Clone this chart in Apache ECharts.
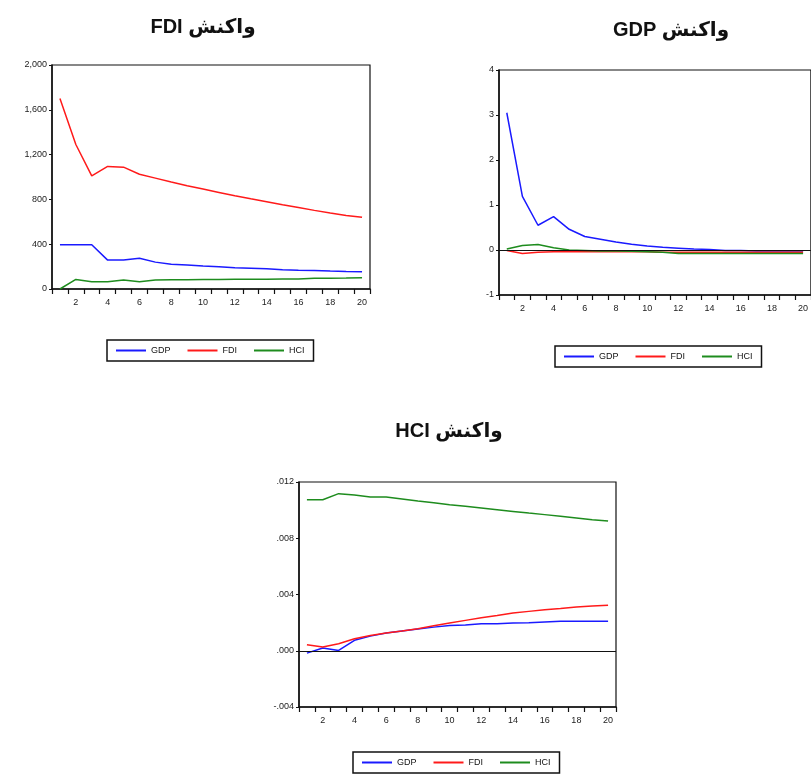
<!DOCTYPE html>
<html>
<head>
<meta charset="utf-8">
<script src="https://cdn.jsdelivr.net/npm/echarts@6/dist/echarts.min.js"></script>
<style>
html,body{margin:0;padding:0;background:#fff;}
#c{width:811px;height:778px;}
</style>
</head>
<body>
<div id="c"></div>
<script>
const periods = ['1','2','3','4','5','6','7','8','9','10','11','12','13','14','15','16','17','18','19','20'];
const seriesNames = ['GDP','FDI','HCI'];
const titles = ['FDI واکنش','GDP واکنش','HCI واکنش'];

// Response of FDI
const fdiResp_GDP = [395,395,395,258,258,275,240,222,215,205,198,190,185,180,172,168,165,160,157,155];
const fdiResp_FDI = [1700,1290,1010,1094,1088,1025,990,955,922,892,862,832,805,780,752,728,702,678,657,640];
const fdiResp_HCI = [0,85,65,65,80,65,80,82,83,84,85,86,87,88,89,90,95,97,98,100];

// Response of GDP
const gdpResp_GDP = [3.05,1.19,0.55,0.74,0.46,0.30,0.24,0.18,0.13,0.09,0.06,0.04,0.02,0.01,-0.01,-0.01,-0.02,-0.02,-0.02,-0.02];
const gdpResp_FDI = [-0.01,-0.08,-0.05,-0.04,-0.04,-0.04,-0.04,-0.04,-0.04,-0.04,-0.05,-0.05,-0.05,-0.05,-0.05,-0.05,-0.05,-0.05,-0.05,-0.05];
const gdpResp_HCI = [0.02,0.10,0.12,0.05,0.0,-0.01,-0.02,-0.02,-0.03,-0.04,-0.05,-0.08,-0.08,-0.08,-0.08,-0.08,-0.08,-0.08,-0.08,-0.08];

// Response of HCI
const hciResp_GDP = [-0.00017,0.0002,0.00002,0.00074,0.00104,0.00126,0.0014,0.00154,0.00168,0.0018,0.00183,0.00192,0.00192,0.00197,0.00199,0.00204,0.00209,0.00209,0.00209,0.00209];
const hciResp_FDI = [0.00043,0.00026,0.0005,0.00085,0.00109,0.00126,0.0014,0.00157,0.00178,0.00197,0.00216,0.00235,0.00251,0.00268,0.0028,0.00292,0.00301,0.00311,0.00318,0.00323];
const hciResp_HCI = [0.01074,0.01074,0.01117,0.01107,0.01093,0.01093,0.01079,0.01065,0.01053,0.01039,0.01027,0.01015,0.01003,0.00991,0.00979,0.00968,0.00956,0.00944,0.00932,0.00922];

const colors = ['#1a1aff','#ff1a1a','#1e8c1e'];
const tickFont = {fontSize:9, color:'#222', fontFamily:'Liberation Sans, Arial, sans-serif'};

const chart = echarts.init(document.getElementById('c'), null, {renderer:'canvas'});

const grids = [
  {left:52, top:65, width:318, height:224},
  {left:499, top:70, width:316, height:225},
  {left:299, top:482, width:317, height:225}
];
const yCfg = [
  {min:0, max:2000, interval:400, fmt:v => v.toLocaleString('en-US'), zero:false},
  {min:-1, max:4, interval:1, fmt:v => String(Math.round(v)), zero:true},
  {min:-0.004, max:0.012, interval:0.004, fmt:v => { let s=(Math.round(v*1000)/1000).toFixed(3); return s.replace('-0.','-.').replace(/^0\./,'.'); }, zero:true}
];
const dataSets = [
  [fdiResp_GDP, fdiResp_FDI, fdiResp_HCI],
  [gdpResp_GDP, gdpResp_FDI, gdpResp_HCI],
  [hciResp_GDP, hciResp_FDI, hciResp_HCI]
];
const titlePos = [{x:198,y:12},{x:666,y:15},{x:444,y:416}];
const legendPos = [{left:107,top:340},{left:555,top:346},{left:353,top:752}];

const option = {
  animation:false,
  backgroundColor:'#fff',
  title: titles.map((t,i)=>({
    text:t, left:titlePos[i].x, top:titlePos[i].y, textAlign:'center',
    textStyle:{fontSize:20, fontWeight:'bold', color:'#111', fontFamily:'Liberation Sans Narrow, Liberation Sans, DejaVu Sans, sans-serif'}
  })),
  legend: legendPos.map(p=>({
    data:seriesNames, left:p.left, top:p.top, orient:'horizontal',
    icon:'rect', itemWidth:30, itemHeight:2, itemGap:17,
    borderColor:'#111', borderWidth:1.5, padding:[6,9,6,9],
    textStyle:{fontSize:9, color:'#111', fontFamily:'Liberation Sans, Arial, sans-serif'},
    selectedMode:false
  })),
  grid: grids.map(g=>({...g, show:true, borderColor:'#111', borderWidth:1.2, backgroundColor:'transparent', containLabel:false})),
  xAxis: grids.map((g,i)=>({
    type:'category', gridIndex:i, data:periods, boundaryGap:true,
    axisLine:{show:true, onZero:false, lineStyle:{color:'#111', width:1.5}},
    axisTick:{show:true, interval:0, length:5, inside:false, lineStyle:{color:'#111', width:1.2}},
    axisLabel:{...tickFont, margin:9, interval:(idx)=> idx%2===1},
    splitLine:{show:false}
  })),
  yAxis: yCfg.map((c,i)=>({
    type:'value', gridIndex:i, min:c.min, max:c.max, interval:c.interval,
    axisLine:{show:true, lineStyle:{color:'#111', width:1.5}},
    axisTick:{show:true, length:3, lineStyle:{color:'#111'}},
    axisLabel:{...tickFont, margin:5, formatter:c.fmt},
    splitLine:{show:false}
  })),
  series: []
};

dataSets.forEach((set,gi)=>{
  set.forEach((arr,si)=>{
    const s = {
      name:seriesNames[si], type:'line', xAxisIndex:gi, yAxisIndex:gi,
      data:arr, symbol:'none', showSymbol:false,
      lineStyle:{color:colors[si], width:1.5}, itemStyle:{color:colors[si]}
    };
    if (si===2 && yCfg[gi].zero) {
      s.markLine = {silent:true, symbol:'none', label:{show:false},
        lineStyle:{color:'#111', type:'solid', width:1.2}, data:[{yAxis:0}]};
    }
    option.series.push(s);
  });
});

chart.setOption(option);
</script>
</body>
</html>
